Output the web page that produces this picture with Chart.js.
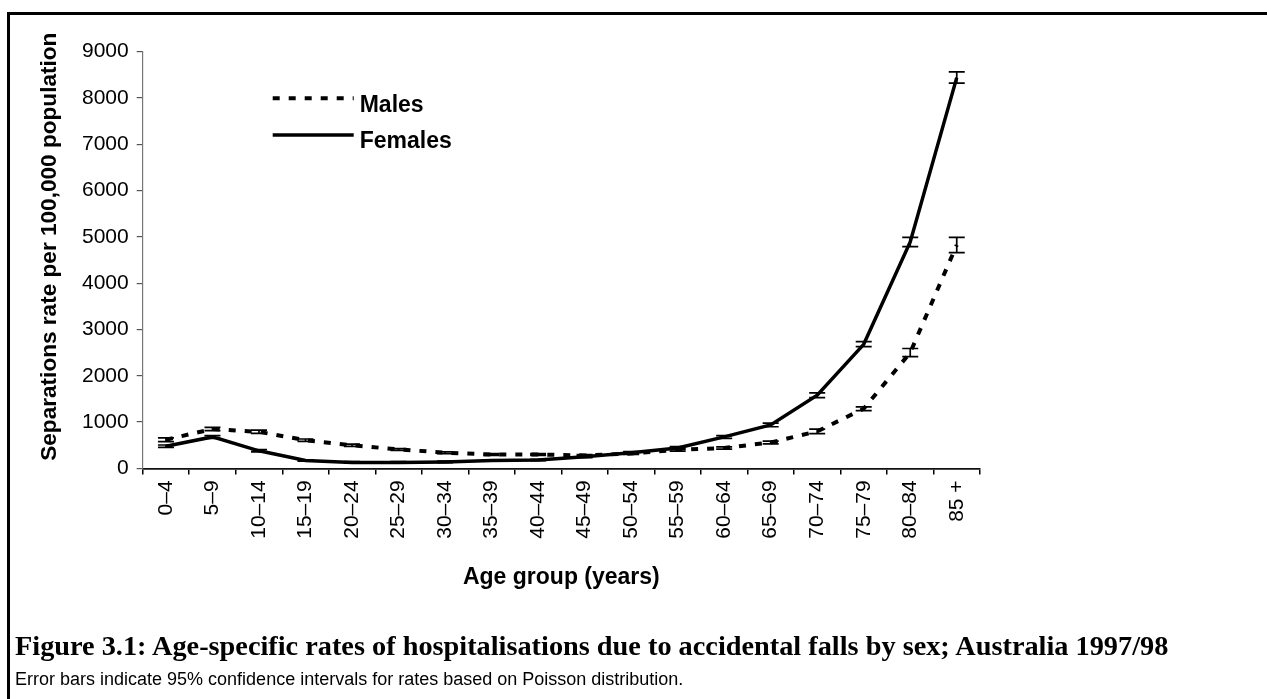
<!DOCTYPE html>
<html>
<head>
<meta charset="utf-8">
<script src="https://cdn.jsdelivr.net/npm/chart.js@4.4.1/dist/chart.umd.min.js"></script>
<style>
  html, body { margin: 0; padding: 0; background: #fff; overflow: hidden; }
  #wrap { position: absolute; left: 0; top: 0; width: 1267px; height: 699px; }
  #frame { position: absolute; left: 7px; top: 12px; width: 1300px; height: 800px;
           border-top: 3px solid #000; border-left: 3px solid #000; }
  .txt { position: absolute; left: 15px; white-space: nowrap; color: #000; }
  #caption { top: 632px; font: bold 28.3px/28.3px "Liberation Serif", "Times New Roman", serif; }
  #note { top: 670px; font: 18px/18px "Liberation Sans", Arial, sans-serif; }
</style>
</head>
<body>
<div id="wrap">
  <canvas id="grafico"></canvas>
</div>
<div id="frame"></div>
<div id="caption" class="txt">Figure 3.1: Age-specific rates of hospitalisations due to accidental falls by sex; Australia 1997/98</div>
<div id="note" class="txt">Error bars indicate 95% confidence intervals for rates based on Poisson distribution.</div>

<script>
// Datos
const ageGroups = ['0–4', '5–9', '10–14', '15–19', '20–24', '25–29', '30–34', '35–39', '40–44',
                   '45–49', '50–54', '55–59', '60–64', '65–69', '70–74', '75–79', '80–84', '85 +'];

const maleRates   = [620, 850, 790, 610, 500, 410, 340, 300, 300, 280, 320, 400, 440, 560, 800, 1290, 2500, 4825];
const maleLow     = [580, 815, 755, 585, 475, 390, 320, 280, 280, 260, 300, 375, 415, 530, 750, 1250, 2415, 4660];
const maleHigh    = [660, 885, 825, 635, 525, 430, 360, 320, 320, 300, 340, 425, 465, 590, 850, 1330, 2590, 4990];

const femaleRates = [480, 680, 380, 170, 130, 130, 140, 170, 180, 250, 340, 440, 680, 940, 1580, 2680, 4890, 8440];
const femaleLow   = [455, 650, 355, 155, 115, 115, 125, 155, 165, 230, 315, 410, 650, 900, 1530, 2630, 4790, 8320];
const femaleHigh  = [505, 710, 405, 185, 145, 145, 155, 185, 195, 270, 365, 470, 710, 980, 1630, 2740, 4990, 8565];

const yMin = 0;
const yMax = 9000;
const yStep = 1000;
const yTitle = 'Separations rate per 100,000 population';

Chart.defaults.font.family = "'Liberation Sans', Arial, sans-serif";
Chart.defaults.color = '#000';

// Barras de error (IC 95%)
const barrasError = {
    id: 'barrasError',
    afterDatasetsDraw(chart) {
        const { ctx, scales: { x, y } } = chart;
        const series = [[maleLow, maleHigh], [femaleLow, femaleHigh]];
        ctx.save();
        ctx.strokeStyle = '#000';
        ctx.lineWidth = 1.7;
        ctx.setLineDash([]);
        series.forEach(([lo, hi]) => {
            lo.forEach((v, i) => {
                const px = x.getPixelForValue(i);
                const yLo = y.getPixelForValue(v);
                const yHi = y.getPixelForValue(hi[i]);
                ctx.beginPath();
                ctx.moveTo(px, yLo); ctx.lineTo(px, yHi);
                ctx.moveTo(px - 8, yLo); ctx.lineTo(px + 8, yLo);
                ctx.moveTo(px - 8, yHi); ctx.lineTo(px + 8, yHi);
                ctx.stroke();
            });
        });
        ctx.restore();
    }
};

// Leyenda dentro del área del gráfico y título del eje Y
const leyenda = {
    id: 'leyenda',
    afterDraw(chart) {
        const { ctx, chartArea } = chart;
        const x0 = chartArea.left + 130;
        const items = [
            { text: 'Males', dash: [7, 9], width: 4, dy: 46.6, base: 60 },
            { text: 'Females', dash: [], width: 3.5, dy: 83.3, base: 96.6 }
        ];
        ctx.save();
        items.forEach(it => {
            const yl = chartArea.top + it.dy;
            ctx.beginPath();
            ctx.setLineDash(it.dash);
            ctx.lineWidth = it.width;
            ctx.strokeStyle = '#000';
            ctx.moveTo(x0, yl);
            ctx.lineTo(x0 + 81, yl);
            ctx.stroke();
            ctx.setLineDash([]);
            ctx.fillStyle = '#000';
            ctx.font = "bold 23px 'Liberation Sans', Arial, sans-serif";
            ctx.textBaseline = 'alphabetic';
            ctx.textAlign = 'left';
            ctx.fillText(it.text, x0 + 87, chartArea.top + it.base);
        });

        // título del eje Y, algo más arriba del centro del área
        ctx.translate(50, chartArea.top + 195);
        ctx.rotate(-Math.PI / 2);
        ctx.font = "bold 22.6px 'Liberation Sans', Arial, sans-serif";
        ctx.textAlign = 'center';
        ctx.textBaseline = 'middle';
        ctx.fillText(yTitle, 0, 0);
        ctx.restore();
    }
};

const ctx = document.getElementById('grafico').getContext('2d');
new Chart(ctx, {
    type: 'line',
    data: {
        labels: ageGroups,
        datasets: [
            {
                label: 'Males',
                data: maleRates,
                borderColor: '#000',
                borderWidth: 4,
                borderDash: [7, 9],
                borderCapStyle: 'butt',
                pointRadius: 0,
                tension: 0,
                fill: false
            },
            {
                label: 'Females',
                data: femaleRates,
                borderColor: '#000',
                borderWidth: 3.5,
                pointRadius: 0,
                tension: 0,
                fill: false
            }
        ]
    },
    options: {
        responsive: true,
        maintainAspectRatio: false,
        animation: false,
        layout: { padding: { left: 30, top: 51.7, right: 287, bottom: 107.2 } },
        plugins: {
            legend: { display: false },
            tooltip: { enabled: false }
        },
        scales: {
            x: {
                type: 'category',
                offset: true,
                afterFit: s => { s.height = 123.4; },
                grid: {
                    offset: true,
                    drawOnChartArea: false,
                    drawTicks: true,
                    tickLength: 6,
                    color: '#000',
                    lineWidth: 1.5
                },
                border: { color: '#111', width: 1.8 },
                ticks: {
                    minRotation: 90,
                    maxRotation: 90,
                    autoSkip: false,
                    padding: 6,
                    font: { size: 21 },
                    color: '#000'
                },
                title: {
                    display: true,
                    text: 'Age group (years)',
                    font: { size: 23, weight: 'bold' },
                    padding: { top: 0, bottom: 0 },
                    color: '#000'
                }
            },
            y: {
                min: yMin,
                max: yMax,
                afterFit: s => { s.width = 112.7; },
                grid: {
                    drawOnChartArea: false,
                    drawTicks: true,
                    tickLength: 6,
                    color: '#555',
                    lineWidth: 1.2
                },
                border: { color: '#777', width: 1.2 },
                ticks: {
                    stepSize: yStep,
                    padding: 8,
                    font: { size: 21 },
                    color: '#000',
                    callback: v => String(v)
                },
                title: { display: false }
            }
        }
    },
    plugins: [barrasError, leyenda]
});
</script>
</body>
</html>
